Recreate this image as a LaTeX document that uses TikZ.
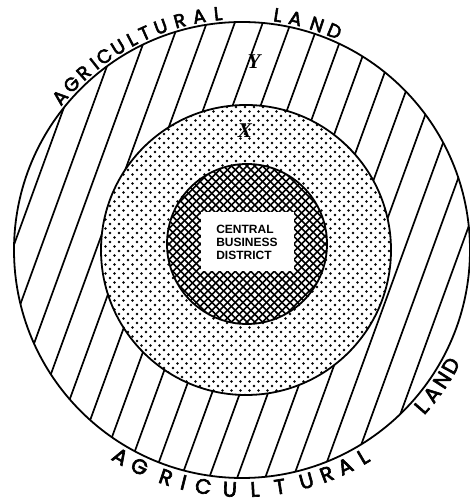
\documentclass[tikz,border=0pt]{standalone}
\usepackage{fontspec}
\newfontfamily\ringfont[FakeBold=3]{Poppins}
\newfontfamily\cbdfont{Liberation Sans}
\newfontfamily\labfont{Liberation Serif}
\usetikzlibrary{calc}

\begin{document}
\begin{tikzpicture}[
    x=1pt, y=1pt,
    zone/.style={draw=black, line width=1.8pt},
    hatch/.style={draw=black, line width=1.7pt},
    xhatch/.style={draw=black, line width=1.6pt},
    ringtop/.style={font=\ringfont\fontsize{19}{19}\selectfont, anchor=base, inner sep=0pt},
    ringbot/.style={font=\ringfont\fontsize{21}{21}\selectfont, anchor=base, inner sep=0pt},
    zonelabel/.style={font=\labfont\fontsize{21}{21}\selectfont\bfseries\itshape, inner sep=0pt}
]

% ── Page ──
\fill[white] (0,0) rectangle (470,503);
\useasboundingbox (0,0) rectangle (470,503);

\coordinate (c_out) at (242,253);
\coordinate (c_mid) at (246,253);
\coordinate (c_cbd) at (247,259);

% ── Ring Y: hatching ──
\begin{scope}
  \clip (c_out) circle (228);
  \foreach \k in {-15,...,9}
    \draw[hatch] (228+28*\k,0) -- ++(70:545);
\end{scope}

% ── Ring X: dots ──
\fill[white] (c_mid) circle (145);
\begin{scope}
  \clip (c_mid) circle (145);
  \foreach \i in {0,...,32}
    \foreach \j in {0,...,32} {
      \fill (101+9*\i,108+9*\j) circle (1.3);
      \fill (105.5+9*\i,112.5+9*\j) circle (1.3);
    }
\end{scope}

% ── CBD: cross hatching ──
\fill[white] (c_cbd) circle (80);
\begin{scope}
  \clip (c_cbd) circle (80);
  \foreach \k in {-16,...,16} {
    \draw[xhatch] (157+7.8*\k,169) -- ++(45:255);
    \draw[xhatch] (337+7.8*\k,169) -- ++(135:255);
  }
\end{scope}
\node[fill=white, minimum width=93pt, minimum height=59pt, inner sep=0pt,
      font=\cbdfont\bfseries\fontsize{12}{13}\selectfont, align=left]
      (cbd) at (247,261) {CENTRAL\\BUSINESS\\DISTRICT};

% ── Zone outlines ──
\draw[zone] (c_out) circle (228);
\draw[zone] (c_mid) circle (145);
\draw[zone] (c_cbd) circle (80);

\node[zonelabel] (lab_y) at (254,441) {Y};
\node[zonelabel] (lab_x) at (245,372) {X};

% ── Ring text ──
\begin{scope}[shift={(c_out)}]
  \foreach \ch/\ang [count=\n] in {A/140.0, G/135.8, R/131.8, I/128.4, C/125.4, U/121.4,
                                   L/117.6, T/114.2, U/110.0, R/105.2, A/100.4, L/95.8,
                                   L/81.3, A/77.0, N/71.6, D/67.1}
    \node[ringtop, rotate=\ang-90] (top\n) at (\ang:231) {\ch};
  \foreach \ch/\ang [count=\n] in {A/239.5, G/244.7, R/251.5, I/255.9, C/260.7, U/267.1,
                                   L/273.1, T/279.1, U/285.6, R/290.7, A/295.5, L/300.4}
    \node[ringbot, rotate=\ang+90] (bot\n) at (\ang:247) {\ch};
  \foreach \ch/\ang [count=\n] in {L/318.8, A/322.8, N/327.0, D/331.0}
    \node[ringbot, rotate=\ang+90] (side\n) at (\ang:246) {\ch};
\end{scope}
\end{tikzpicture}
\end{document}
